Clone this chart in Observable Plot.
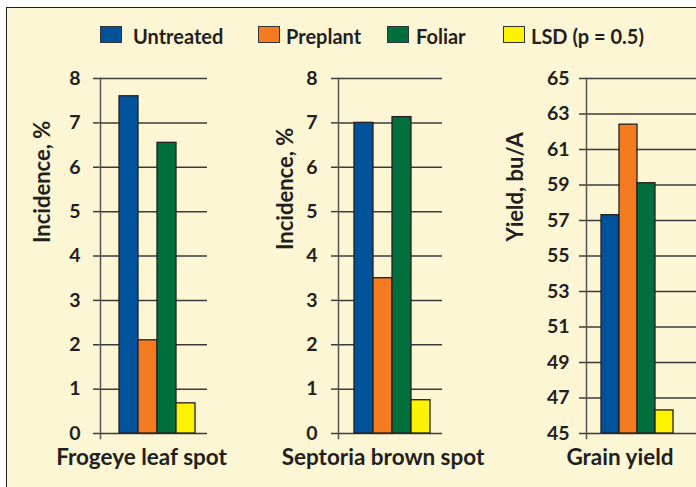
<!DOCTYPE html>
<html>
<head>
<meta charset="utf-8">
<script src="https://cdn.jsdelivr.net/npm/d3@7"></script>
<script src="https://cdn.jsdelivr.net/npm/@observablehq/plot@0.6"></script>
<style>
html,body{margin:0;padding:0;background:#fff;}
#wrap{position:relative;width:696px;height:487px;overflow:hidden;background:#fff;font-family:Lato,"Open Sans",sans-serif;color:#231f20;}
#bg{position:absolute;left:6px;top:7px;width:720px;height:520px;background:#fdf6d4;border-top:1.5px solid #231f20;border-left:1.5px solid #231f20;}
.panel{position:absolute;top:0;}
.sw{position:absolute;box-sizing:border-box;width:22px;height:17px;border:1.5px solid #333;top:26px;}
.lt{position:absolute;top:22px;font-size:20px;font-weight:700;line-height:28px;white-space:nowrap;}
</style>
</head>
<body>
<div id="wrap"><div id="bg"></div><div id="legend"></div></div>
<script>
// ---- data ----
const treatments = ["Untreated", "Preplant", "Foliar", "LSD (p = 0.5)"];
const colors = ["#00539b", "#f47b20", "#006f3b", "#fff200"];
const categories = ["Frogeye leaf spot", "Septoria brown spot", "Grain yield"];
const yTitles = ["Incidence, %", "Incidence, %", "Yield, bu/A"];
const frogeye = [7.6, 2.1, 6.55, 0.68];
const septoria = [7.0, 3.5, 7.13, 0.75];
const grainYield = [57.3, 62.4, 59.1, 46.3];
const incidenceTicks = [0, 1, 2, 3, 4, 5, 6, 7, 8];
const yieldTicks = [45, 47, 49, 51, 53, 55, 57, 59, 61, 63, 65];

// ---- layout ----
const layout = [
  {left: 0,   width: 232, marginLeft: 100, marginRight: 25, range: [118, 195], tickPadding: 13, titleDx: -58, titleDy: -13,  labelDx: -12.5},
  {left: 232, width: 232, marginLeft: 106, marginRight: 22, range: [122, 198], tickPadding: 14, titleDx: -53, titleDy: -6,   labelDx: -7.5},
  {left: 464, width: 232, marginLeft: 122, marginRight: 0,  range: [136, 210], tickPadding: 10, titleDx: -71, titleDy: -14.5, labelDx: -21.5}
];
const legendSwatchX = [100, 258, 387, 503];
const legendTextX = [133, 286, 416, 531];

const wrap = document.getElementById("wrap");
const legend = document.getElementById("legend");
treatments.forEach((t, i) => {
  const sw = document.createElement("div");
  sw.className = "sw";
  sw.style.left = legendSwatchX[i] + "px";
  sw.style.background = colors[i];
  legend.appendChild(sw);
  const tx = document.createElement("div");
  tx.className = "lt";
  tx.style.left = legendTextX[i] + "px";
  tx.textContent = t;
  legend.appendChild(tx);
});

function panel(values, domain, ticks, yTitle, cat, L) {
  const rows = treatments.map((t, j) => ({treatment: t, value: values[j], base: domain[0]}));
  return Plot.plot({
    width: L.width,
    height: 487,
    marginTop: 78,
    marginBottom: 54,
    marginLeft: L.marginLeft,
    marginRight: L.marginRight,
    style: {background: "transparent", fontFamily: "Lato, 'Open Sans', sans-serif", color: "#231f20", overflow: "visible"},
    x: {type: "band", domain: treatments, range: L.range, padding: 0, axis: null},
    y: {domain, axis: null},
    color: {domain: treatments, range: colors},
    marks: [
      Plot.ruleY(ticks, {stroke: "#3a3a3a", strokeWidth: 1.5}),
      Plot.axisY(ticks, {tickSize: 7, tickPadding: L.tickPadding, stroke: "#3a3a3a", strokeWidth: 1.5, fontSize: 19.5, fontWeight: 700, fill: "#231f20", label: null, tickFormat: d => String(d)}),
      Plot.frame({anchor: "left", stroke: "#555", strokeWidth: 1.5, insetBottom: -5}),
      Plot.barY(rows, {x: "treatment", y1: "base", y2: "value", fill: "treatment", stroke: "#231f20", strokeWidth: 1.3}),
      Plot.text([yTitle], {frameAnchor: "left", text: d => d, rotate: -90, dx: L.titleDx, dy: L.titleDy, fontSize: 22, fontWeight: 700, fill: "#231f20"}),
      Plot.text([cat], {frameAnchor: "bottom", text: d => d, dx: L.labelDx, dy: 31, fontSize: 22.5, fontWeight: 700, fill: "#231f20"})
    ]
  });
}

const series = [frogeye, septoria, grainYield];
const domains = [[0, 8], [0, 8], [45, 65]];
const tickSets = [incidenceTicks, incidenceTicks, yieldTicks];
series.forEach((vals, i) => {
  const svg = panel(vals, domains[i], tickSets[i], yTitles[i], categories[i], layout[i]);
  svg.classList.add("panel");
  svg.style.left = layout[i].left + "px";
  svg.style.position = "absolute";
  svg.style.top = "0px";
  wrap.appendChild(svg);
});
</script>
</body>
</html>
